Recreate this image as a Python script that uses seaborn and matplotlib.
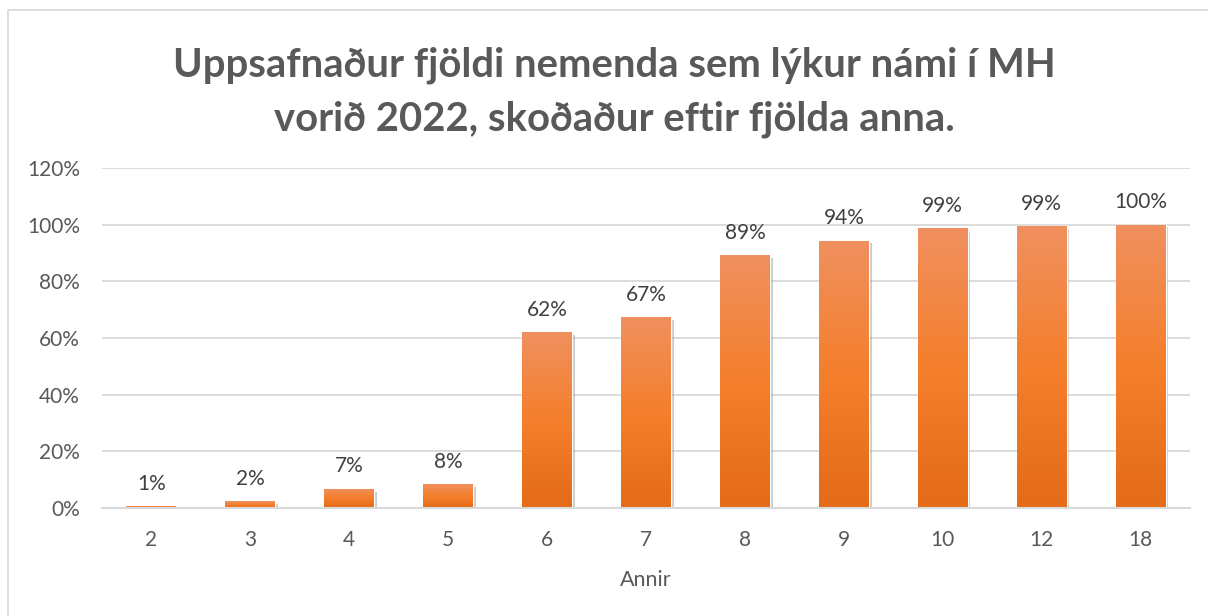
"""Cumulative share of MH graduates, spring 2022, by number of semesters."""

import matplotlib
matplotlib.use("Agg")
import matplotlib.pyplot as plt
import matplotlib.patheffects as pe
from matplotlib.colors import LinearSegmentedColormap
from matplotlib.lines import Line2D
from matplotlib.ticker import FuncFormatter
import numpy as np
import pandas as pd
import seaborn as sns

annir = ["2", "3", "4", "5", "6", "7", "8", "9", "10", "12", "18"]
uppsafnad = [0.6, 2.4, 6.8, 8.3, 62.0, 67.3, 89.2, 94.4, 98.7, 99.4, 100.0]

title = "Uppsafnaður fjöldi nemenda sem lýkur námi í MH\nvorið 2022, skoðaður eftir fjölda anna."

sns.set_theme(style="white")
plt.rcParams["font.family"] = ["Lato", "DejaVu Sans"]

df = pd.DataFrame({"Annir": annir, "Hlutfall": uppsafnad})

fig = plt.figure(figsize=(12.08, 6.16), dpi=100)
ax = fig.add_axes([102 / 1208, 1 - 508 / 616, (1190 - 102) / 1208, (508 - 168) / 616])

sns.barplot(data=df, x="Annir", y="Hlutfall", order=annir, color="#F47E2B",
            width=0.505, saturation=1, ax=ax, zorder=3)

# Excel-like vertical gradient + soft shadow on each bar
grad = LinearSegmentedColormap.from_list("org", ["#E46B18", "#F47F2C", "#F0905F"])
gimg = np.linspace(0, 1, 256).reshape(-1, 1)
for bar in ax.patches:
    bar.set_path_effects([pe.SimplePatchShadow(offset=(2, -2), shadow_rgbFace="#7f7f7f", alpha=0.4),
                          pe.Normal()])
    x0, w, h = bar.get_x(), bar.get_width(), bar.get_height()
    im = ax.imshow(gimg, cmap=grad, origin="lower", aspect="auto",
                   extent=(x0, x0 + w, 0, h), zorder=4)
    im.set_clip_path(bar)

ax.set_xlim(-0.5, len(annir) - 0.5)
ax.set_ylim(0, 120)
ax.set_yticks(range(0, 121, 20))
ax.yaxis.set_major_formatter(FuncFormatter(lambda v, _: f"{v:.0f}%"))
ax.grid(axis="y", color="#D9D9D9", linewidth=1.3, zorder=0)
ax.set_axisbelow(True)
for s in ["top", "right", "left"]:
    ax.spines[s].set_visible(False)
ax.spines["bottom"].set_color("#D9D9D9")
ax.spines["bottom"].set_linewidth(1.5)
ax.spines["bottom"].set_zorder(5)

ax.tick_params(axis="y", length=0, pad=16, labelsize=15, labelcolor="#595959")
ax.tick_params(axis="x", length=0, pad=16, labelsize=15, labelcolor="#595959")
ax.set_xlabel("Annir", fontsize=15.5, color="#595959", labelpad=14)
ax.set_ylabel("")

for i, v in enumerate(uppsafnad):
    ax.annotate(f"{v:.0f}%", (i, v), xytext=(0, 9), textcoords="offset points",
                ha="center", va="bottom", fontsize=15, color="#404040")

fig.text(614 / 1208, 1 - 92 / 616, title, ha="center", va="center", fontsize=28.8,
         fontweight="bold", color="#595959", linespacing=1.55)

# chart area border (only top/left visible in crop)
fig.add_artist(Line2D([8 / 1208, 8 / 1208, 1.0], [0.0, 1 - 10 / 616, 1 - 10 / 616],
                      transform=fig.transFigure, color="#D9D9D9", linewidth=1.2))

fig.savefig("out.png", dpi=100)
